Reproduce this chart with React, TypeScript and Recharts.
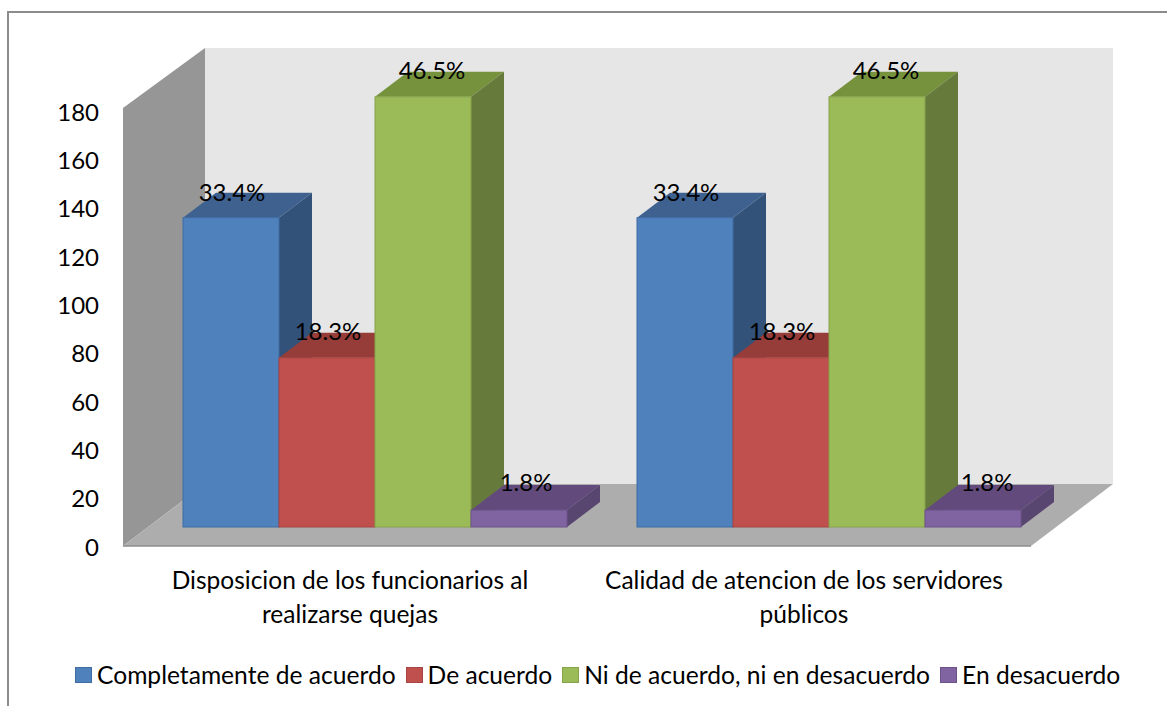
import { Bar, BarChart, LabelList, XAxis, YAxis, usePlotArea } from "recharts";

const categories = [
  ["Disposicion de los funcionarios al", "realizarse quejas"],
  ["Calidad de atencion de los servidores", "públicos"],
];
const seriesNames = [
  "Completamente de acuerdo",
  "De acuerdo",
  "Ni de acuerdo, ni en desacuerdo",
  "En desacuerdo",
];
const completamente = [128, 128];
const deAcuerdo = [70, 70];
const niNi = [178, 178];
const enDesacuerdo = [7, 7];
const percentLabels = ["33.4%", "18.3%", "46.5%", "1.8%"];
const yTicks = [0, 20, 40, 60, 80, 100, 120, 140, 160, 180];

const faces = [
  { front: "#4F81BD", top: "#3E6190", side: "#33527A", edge: "#3F6CA3" },
  { front: "#C0504D", top: "#963C39", side: "#843533", edge: "#A84543" },
  { front: "#9BBB59", top: "#76923C", side: "#667B3B", edge: "#86A34A" },
  { front: "#8064A2", top: "#624B7C", side: "#584570", edge: "#6C5289" },
];

const data = categories.map((lines, i) => ({
  name: lines.join(" "),
  s0: completamente[i],
  s1: deAcuerdo[i],
  s2: niNi[i],
  s3: enDesacuerdo[i],
}));

const FONT = "Lato, sans-serif";
const TEXT_SIZE = 24;
const WIDTH = 1167;
const HEIGHT = 706;
// depth of the chart box, and how far the bars sit into it
const WALL_DX = 82;
const WALL_DY = 62;
const BAR_DX = 24.5;
const BAR_DY = -20;
const BOX_DX = 33;
const BOX_DY = -25;
// label placement per series: the reference does not centre them all the same way
const labelShiftX = [1, 1, 9, 7];
const labelShiftY = [-26, -27, -27, -29];

function Walls() {
  const plot = usePlotArea();
  if (!plot) return null;
  const left = plot.x;
  const right = plot.x + plot.width;
  const top = plot.y - 4;
  const floor = plot.y + plot.height - 1;
  return (
    <g>
      <polygon
        points={`${left + WALL_DX},${top - WALL_DY + 2} ${right + WALL_DX},${top - WALL_DY + 2} ${right + WALL_DX},${floor - WALL_DY} ${left + WALL_DX},${floor - WALL_DY}`}
        fill="#E6E6E6"
      />
      <polygon
        points={`${left},${top} ${left + WALL_DX},${top - WALL_DY + 2} ${left + WALL_DX},${floor - WALL_DY} ${left},${floor}`}
        fill="#969696"
      />
      <polygon
        points={`${left},${floor} ${left + WALL_DX},${floor - WALL_DY} ${right + WALL_DX},${floor - WALL_DY} ${right},${floor}`}
        fill="#ADADAD"
      />
      <line x1={left} y1={floor} x2={right} y2={floor} stroke="#8C8C8C" strokeWidth={1.5} />
    </g>
  );
}

function Box3D(props: any) {
  const { x, y, width, height, seriesIndex } = props;
  const c = faces[seriesIndex];
  const x0 = x + BAR_DX;
  const y0 = y + BAR_DY;
  const x1 = x0 + width;
  const y1 = y0 + height;
  return (
    <g>
      <polygon
        points={`${x0},${y0} ${x0 + BOX_DX},${y0 + BOX_DY} ${x1 + BOX_DX},${y0 + BOX_DY} ${x1},${y0}`}
        fill={c.top}
      />
      <polygon
        points={`${x1},${y0} ${x1 + BOX_DX},${y0 + BOX_DY} ${x1 + BOX_DX},${y1 + BOX_DY} ${x1},${y1}`}
        fill={c.side}
      />
      <rect x={x0} y={y0} width={width} height={height} fill={c.front} stroke={c.edge} strokeWidth={1} />
    </g>
  );
}

function PercentLabel(props: any) {
  const { x, y, width, seriesIndex, index } = props;
  // second purple label sits further right in the reference
  const extra = seriesIndex === 3 && index === 1 ? 7 : 0;
  return (
    <text
      x={x + BAR_DX + width / 2 + labelShiftX[seriesIndex] + extra}
      y={y + BAR_DY + labelShiftY[seriesIndex]}
      textAnchor="middle"
      dominantBaseline="central"
      fontFamily={FONT}
      fontSize={TEXT_SIZE}
      fill="#000"
    >
      {percentLabels[seriesIndex]}
    </text>
  );
}

function CategoryTick(props: any) {
  const { x, y, index } = props;
  return (
    <text textAnchor="middle" fontFamily={FONT} fontSize={24.5} fill="#000">
      {categories[index].map((line, i) => (
        <tspan key={i} x={x} y={y + 34 + i * 34}>
          {line}
        </tspan>
      ))}
    </text>
  );
}

function ChartLegend() {
  return (
    <div
      style={{
        position: "absolute",
        left: 75,
        top: 662,
        display: "flex",
        gap: 10,
        whiteSpace: "nowrap",
        fontFamily: FONT,
        fontSize: 24.6,
        lineHeight: "26px",
      }}
    >
      {seriesNames.map((name, i) => (
        <span key={name} style={{ display: "flex", alignItems: "center", gap: 5 }}>
          <span
            style={{
              width: 17,
              height: 16,
              background: faces[i].front,
              border: `1px solid ${faces[i].edge}`,
              boxSizing: "border-box",
            }}
          />
          {name}
        </span>
      ))}
    </div>
  );
}

export default function App() {
  return (
    <div style={{ position: "absolute", left: 0, top: 0, width: WIDTH, height: HEIGHT, background: "#fff", overflow: "hidden" }}>
      {/* frame: only the top and left edges are inside the picture */}
      <div style={{ position: "absolute", left: 7, top: 11, width: WIDTH - 7, height: 2, background: "#8C8C8C" }} />
      <div style={{ position: "absolute", left: 7, top: 11, width: 2, height: HEIGHT - 11, background: "#8C8C8C" }} />
      <BarChart
        width={WIDTH}
        height={HEIGHT}
        data={data}
        margin={{ top: 112, right: 136, bottom: 158, left: 122 }}
        barCategoryGap={35.5}
        barGap={0}
        style={{ position: "absolute", left: 0, top: 0 }}
      >
        <Walls />
        <XAxis dataKey="name" axisLine={false} tickLine={false} interval={0} tick={<CategoryTick />} height={1} />
        <YAxis
          domain={[0, 180]}
          ticks={yTicks}
          axisLine={false}
          tickLine={false}
          width={1}
          tickSize={0}
          tickMargin={24}
          tick={{ fontFamily: FONT, fontSize: TEXT_SIZE, fill: "#000" }}
        />
        {seriesNames.map((name, i) => (
          <Bar
            key={name}
            dataKey={`s${i}`}
            name={name}
            isAnimationActive={false}
            shape={(p: any) => <Box3D {...p} seriesIndex={i} />}
          >
            <LabelList content={(p: any) => <PercentLabel {...p} seriesIndex={i} />} />
          </Bar>
        ))}
      </BarChart>
      <ChartLegend />
    </div>
  );
}
